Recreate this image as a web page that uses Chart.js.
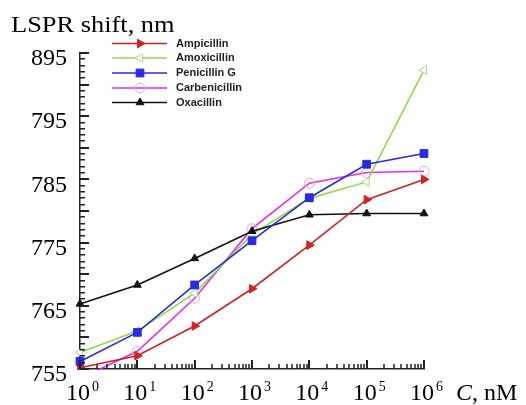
<!DOCTYPE html>
<html>
<head>
<meta charset="utf-8">
<script src="https://cdn.jsdelivr.net/npm/chart.js@4/dist/chart.umd.min.js"></script>
<style>
  html, body { margin: 0; padding: 0; background: #fff; }
  #wrap { width: 526px; height: 405px; position: relative; }
</style>
</head>
<body>
<div id="wrap"><canvas id="chart" width="526" height="405"></canvas></div>
<script>
// 数据
const concentrations = [1, 10, 100, 1000, 10000, 100000, 1000000];
const xExponents = ['0', '1', '2', '3', '4', '5', '6'];
const ampicillin = [755.2, 757.1, 761.8, 767.7, 774.6, 781.8, 785.0];
const amoxicillin = [757.6, 761.0, 767.0, 776.3, 782.0, 784.6, 802.3];
const penicillinG = [756.2, 760.8, 768.3, 775.3, 782.1, 787.4, 789.1];
const carbenicillin = [753.5, 757.8, 766.2, 777.2, 784.4, 786.1, 786.3];
const oxacillin = [765.3, 768.3, 772.5, 776.8, 779.4, 779.6, 779.6];
const yTickValues = [755, 765, 775, 785, 795, 805];
const yTickLabels = ['755', '765', '775', '785', '795', '895'];
const yTitle = 'LSPR shift, nm';

const SERIF = '"Liberation Serif", "Times New Roman", serif';

function series(label, values, color, style) {
    return Object.assign({
        label: label,
        data: values.map((v, i) => ({ x: concentrations[i], y: v })),
        borderColor: color,
        backgroundColor: color,
        pointBorderColor: color,
        pointBackgroundColor: color,
        borderWidth: 1.6,
        pointBorderWidth: 1,
        tension: 0,
        clip: { left: 8, top: 8, right: 12, bottom: 1 }
    }, style);
}

// order 小的画在上层
const datasets = [
    series('Ampicillin', ampicillin, '#d42020', { pointStyle: 'triangle', pointRotation: 90, pointRadius: 5, order: 1 }),
    series('Amoxicillin', amoxicillin, '#92dc3e', { pointStyle: 'triangle', pointRotation: -90, pointRadius: 5, pointBackgroundColor: '#fff', pointBorderColor: '#a8d890', order: 3 }),
    series('Penicillin G', penicillinG, '#2a2ae6', { pointStyle: 'rect', pointRadius: 5.5, order: 0 }),
    series('Carbenicillin', carbenicillin, '#ea2aea', { pointStyle: 'circle', pointRadius: 5, pointBackgroundColor: 'rgba(255,255,255,0)', pointBorderColor: '#dcaadc', order: 4 }),
    series('Oxacillin', oxacillin, '#111', { pointStyle: 'triangle', pointRadius: 4.5, order: 2 })
];

// 内向刻度线（用 fillRect 画）
function drawTicks(chart) {
    const ctx = chart.ctx;
    const xs = chart.scales.x, ys = chart.scales.y;
    const left = Math.round(xs.getPixelForValue(1));
    const bottom = Math.round(ys.getPixelForValue(755));
    ctx.save();
    ctx.fillStyle = '#222';
    for (let v = 755; v <= 805; v++) {
        const y = Math.round(ys.getPixelForValue(v));
        const major = v % 5 === 0;
        ctx.fillRect(left, y - 1, major ? 9 : 5, major ? 2 : 1.5);
    }
    for (let d = 0; d <= 6; d++) {
        const x = Math.round(xs.getPixelForValue(Math.pow(10, d)));
        ctx.fillRect(x - 1, bottom - 9, 2, 9);
        if (d < 6) {
            for (let k = 2; k <= 9; k++) {
                const xm = Math.round(xs.getPixelForValue(k * Math.pow(10, d)));
                ctx.fillRect(xm - 0.75, bottom - 5, 1.5, 5);
            }
        }
    }
    ctx.restore();
}

// 刻度、标签和图例
const decorPlugin = {
    id: 'decor',
    afterDraw(chart) {
        drawTicks(chart);
        const ctx = chart.ctx;
        const xs = chart.scales.x, ys = chart.scales.y;
        ctx.save();
        ctx.fillStyle = '#000';

        // y 轴标签
        ctx.font = '24px ' + SERIF;
        ctx.textAlign = 'right';
        ctx.textBaseline = 'middle';
        yTickValues.forEach((v, i) => {
            ctx.fillText(yTickLabels[i], 67, ys.getPixelForValue(v) + 6);
        });

        // x 轴标签 10^n
        ctx.textBaseline = 'alphabetic';
        concentrations.forEach((c, i) => {
            const x = xs.getPixelForValue(c) - 2;
            ctx.font = '24px ' + SERIF;
            ctx.textAlign = 'center';
            ctx.fillText('10', x, 399.5);
            const w = ctx.measureText('10').width;
            ctx.font = '14px ' + SERIF;
            ctx.textAlign = 'left';
            ctx.fillText(xExponents[i], x + w / 2 + 2, 391);
        });

        // 轴标题
        ctx.font = 'italic 24px ' + SERIF;
        ctx.textAlign = 'left';
        ctx.fillText('C', 456, 399.5);
        const cw = ctx.measureText('C').width;
        ctx.font = '24px ' + SERIF;
        ctx.fillText(', nM', 456 + cw, 399.5);

        ctx.save();
        ctx.translate(11, 31.5);
        ctx.scale(1.1, 1);
        ctx.font = '24px ' + SERIF;
        ctx.fillText(yTitle, 0, 0);
        ctx.restore();

        // 图例
        const rowY = [43.5, 58, 73, 88, 102.5];
        chart.data.datasets.forEach((ds, i) => {
            const y = rowY[i];
            ctx.strokeStyle = ds.borderColor;
            ctx.lineWidth = 1.6;
            ctx.beginPath();
            ctx.moveTo(112, y);
            ctx.lineTo(167, y);
            ctx.stroke();
            ctx.fillStyle = ds.pointBackgroundColor;
            ctx.strokeStyle = ds.pointBorderColor;
            ctx.lineWidth = 1;
            Chart.helpers.drawPoint(ctx, {
                pointStyle: ds.pointStyle,
                rotation: ds.pointRotation || 0,
                radius: ds.pointRadius,
                borderWidth: 1
            }, 140, y);
            ctx.fillStyle = '#222';
            ctx.font = 'bold 11px "Liberation Sans", Arial, sans-serif';
            ctx.textAlign = 'left';
            ctx.textBaseline = 'middle';
            ctx.fillText(ds.label, 176, y);
        });
        ctx.restore();
    }
};

new Chart(document.getElementById('chart'), {
    type: 'line',
    data: { datasets: datasets },
    plugins: [decorPlugin],
    options: {
        responsive: false,
        animation: false,
        layout: { padding: { left: 80, top: 53, right: 102, bottom: 36 } },
        plugins: { legend: { display: false }, tooltip: { enabled: false } },
        scales: {
            x: {
                type: 'logarithmic',
                min: 1,
                max: 1000000,
                ticks: { display: false },
                grid: { display: false },
                border: { display: true, color: '#222', width: 1.5 },
                afterFit(scale) { scale.height = 0; }
            },
            y: {
                min: 755,
                max: 805,
                ticks: { display: false },
                grid: { display: false },
                border: { display: true, color: '#222', width: 1.5 },
                afterFit(scale) { scale.width = 0; }
            }
        }
    }
});
</script>
</body>
</html>
